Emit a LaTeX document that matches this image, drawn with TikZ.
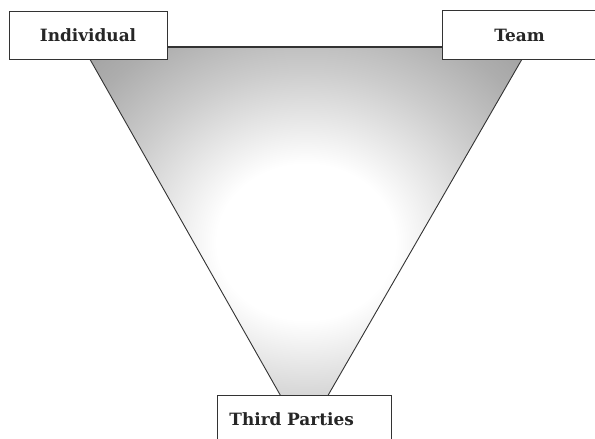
\documentclass[tikz,border=0pt]{standalone}
\usepackage{fontspec}
\setmainfont{DejaVu Serif}
\pgfdeclareradialshading{funnel}{\pgfpoint{0bp}{0bp}}{%
  color(0bp)=(white); color(10bp)=(white); color(22bp)=(black!20);
  color(30bp)=(black!32); color(40bp)=(black!42); color(50bp)=(black!46)}
\tikzset{
  labelbox/.style={draw=black!80, line width=0.8bp, fill=white, rectangle,
    font=\fontsize{17}{20}\selectfont\bfseries, text=black!85}
}
\begin{document}
\begin{tikzpicture}[x=1bp,y=-1bp]
\useasboundingbox (0,0) rectangle (595,439);
\fill[white] (0,0) rectangle (595,439);
\coordinate (tl) at (83,47);
\coordinate (tr) at (529,47);
\coordinate (ap) at (304,437);
\shade[shading=funnel] (tl) -- (tr) -- (ap) -- cycle;
\draw[black!80, line width=0.9bp, line join=miter] (ap) -- (tl) -- (tr) -- cycle;
\draw[black!80, line width=2bp] (tl) -- (tr);
\node[labelbox, minimum width=158bp, minimum height=48bp] (ind) at (88,35) {Individual};
\node[labelbox, minimum width=155bp, minimum height=49bp] (team) at (519.5,35) {Team};
\node[labelbox, text width=150bp, align=left, inner xsep=12bp, minimum height=48bp, anchor=north west] (tp) at (217,395) {Third Parties};
\end{tikzpicture}
\end{document}
